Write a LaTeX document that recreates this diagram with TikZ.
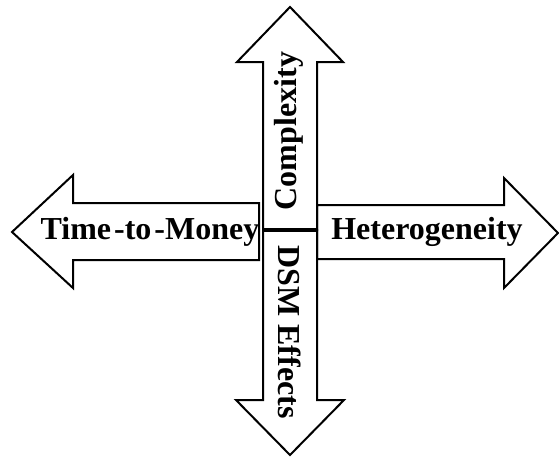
\documentclass[tikz,border=0pt]{standalone}
\usepackage{fontspec}
\setmainfont{Liberation Serif}
\begin{document}
\begin{tikzpicture}[x=1pt,y=-1pt,
  arrowshape/.style={draw=black,fill=white,line width=2pt,line join=miter},
  lbl/.style={font=\fontsize{32}{36}\selectfont\bfseries,inner sep=0pt}]
\useasboundingbox (0,0) rectangle (559,456);
% left arrow
\draw[arrowshape] (259,203) -- (73,203) -- (73,175) -- (12,232) -- (73,288) -- (73,260) -- (259,260) -- cycle;
% right arrow
\draw[arrowshape] (317,205) -- (504,205) -- (504,178) -- (558,233) -- (504,288) -- (504,259) -- (317,259) -- cycle;
% up arrow
\draw[arrowshape] (263,230) -- (263,62) -- (237,62) -- (290,7) -- (343,62) -- (317,62) -- (317,230) -- cycle;
% down arrow
\draw[arrowshape] (263,230) -- (263,400) -- (236,400) -- (290,455) -- (344,400) -- (317,400) -- (317,230) -- cycle;
\coordinate (ml) at (263,230);
\coordinate (mr) at (317,230);
\draw[line width=3.5pt] (ml) -- (mr);
% labels
\node[lbl] (ttm) at (150,232) {Time\kern3pt-to\kern3pt-Money};
\node[lbl] (het) at (427,232) {Heterogeneity};
\node[lbl,rotate=90] (cpx) at (289,131) {Complexity};
\node[lbl,rotate=-90] (dsm) at (290,332) {DSM Effects};
\end{tikzpicture}
\end{document}
